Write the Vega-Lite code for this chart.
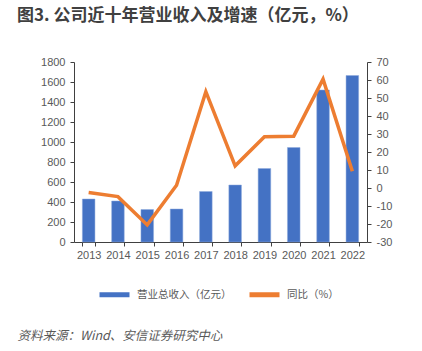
{
  "$schema": "https://vega.github.io/schema/vega-lite/v6.json",
  "width": 293,
  "height": 180,
  "autosize": {"type": "none"},
  "padding": {"left": 74, "top": 62, "right": 55, "bottom": 109},
  "background": "white",
  "title": {
    "text": "图3. 公司近十年营业收入及增速（亿元，%）",
    "anchor": "start",
    "frame": "group",
    "dx": -57,
    "offset": 31,
    "baseline": "top",
    "font": "Noto Sans CJK SC",
    "fontSize": 17,
    "fontWeight": "bold",
    "color": "#404040"
  },
  "data": {
    "values": [
      {"year": "2013", "revenue": 430, "yoy": -2.5},
      {"year": "2014", "revenue": 410, "yoy": -4.8},
      {"year": "2015", "revenue": 325, "yoy": -20.5},
      {"year": "2016", "revenue": 330, "yoy": 1.5},
      {"year": "2017", "revenue": 505, "yoy": 53.5},
      {"year": "2018", "revenue": 570, "yoy": 12.3},
      {"year": "2019", "revenue": 735, "yoy": 28.5},
      {"year": "2020", "revenue": 945, "yoy": 28.8},
      {"year": "2021", "revenue": 1520, "yoy": 60.5},
      {"year": "2022", "revenue": 1665, "yoy": 9.3}
    ]
  },
  "encoding": {
    "x": {
      "field": "year",
      "type": "ordinal",
      "scale": {"paddingInner": 0.57, "paddingOuter": 0.285},
      "axis": {
        "title": "资料来源：Wind、安信证券研究中心",
        "titleX": -57,
        "titleY": 93,
        "titleAlign": "left",
        "titleBaseline": "middle",
        "titleFont": "Noto Sans CJK SC",
        "titleFontSize": 12.5,
        "titleFontStyle": "italic",
        "titleFontWeight": "normal",
        "titleColor": "#595959",
        "labelAngle": 0,
        "tickBand": "extent",
        "tickSize": 4,
        "labelPadding": 3
      }
    }
  },
  "layer": [
    {
      "mark": {"type": "bar", "stroke": "#8FAADC", "strokeWidth": 0.5},
      "encoding": {
        "y": {
          "field": "revenue",
          "type": "quantitative",
          "scale": {"domain": [0, 1800], "nice": false},
          "axis": {"values": [0, 200, 400, 600, 800, 1000, 1200, 1400, 1600, 1800], "labelExpr": "'' + datum.value", "title": null, "orient": "left"}
        },
        "color": {"datum": "营业总收入（亿元）", "type": "nominal"}
      }
    },
    {
      "mark": {"type": "line", "strokeWidth": 3.5},
      "encoding": {
        "y": {
          "field": "yoy",
          "type": "quantitative",
          "scale": {"domain": [-30, 70], "nice": false, "zero": false},
          "axis": {"values": [-30, -20, -10, 0, 10, 20, 30, 40, 50, 60, 70], "labelExpr": "'' + datum.value", "title": null, "orient": "right"}
        },
        "color": {"datum": "同比（%）", "type": "nominal"}
      }
    }
  ],
  "resolve": {"scale": {"y": "independent"}},
  "config": {
    "view": {"stroke": null},
    "range": {"category": ["#4472C4", "#ED7D31"]},
    "axis": {
      "grid": false,
      "domainColor": "#404040",
      "tickColor": "#404040",
      "tickSize": 4,
      "labelFont": "Liberation Sans",
      "labelFontSize": 11,
      "labelColor": "#595959",
      "labelPadding": 5
    },
    "legend": {
      "orient": "none",
      "legendX": 23,
      "legendY": 215,
      "direction": "horizontal",
      "title": null,
      "symbolType": "stroke",
      "symbolSize": 900,
      "symbolStrokeWidth": 5,
      "labelFont": "Noto Sans CJK SC",
      "labelFontSize": 10.5,
      "labelColor": "#595959",
      "labelOffset": 5,
      "columnPadding": 7
    }
  }
}
